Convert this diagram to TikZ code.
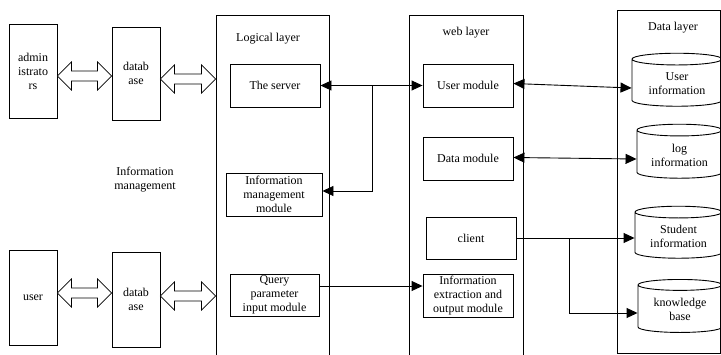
\documentclass[tikz,border=0pt]{standalone}
\usepackage{fontspec}
\setmainfont{Liberation Serif}
\usetikzlibrary{arrows.meta,calc,shapes.geometric}
\tikzset{
  box/.style={draw, line width=0.9pt, align=center, inner sep=1pt},
  layer/.style={draw, line width=0.9pt},
  title/.style={inner sep=0pt},
  store/.style={draw, line width=0.9pt, cylinder, shape border rotate=90, aspect=0.2, align=center, inner sep=1pt},
  link/.style={line width=0.9pt, -{Triangle[length=11pt,width=10pt]}},
  twolink/.style={line width=0.9pt, {Triangle[length=11pt,width=10pt]}-{Triangle[length=11pt,width=10pt]}},
  hollow/.style={draw, line width=0.7pt, fill=white}
}
% hollow double arrow between two nodes at height #3
\newcommand{\hollowarrow}[3]{%
  \path (#1.east |- 0,#3) coordinate (hA) (#2.west |- 0,#3) coordinate (hB);
  \draw[hollow] (hA) -- ++(14,-14) -- ++(0,9) -- ($(hB)+(-14,-5)$) -- ++(0,-9)
    -- (hB) -- ++(-14,14) -- ++(0,-9) -- ($(hA)+(14,5)$) -- ++(0,9) -- cycle;}

\begin{document}
\begin{tikzpicture}[x=1pt, y=-1pt, font=\fontsize{12}{14}\selectfont]
    \useasboundingbox (0,0) rectangle (721,354);
    \clip (0,0) rectangle (721,354);
    % layers
    \node[layer, minimum width=113pt, minimum height=355pt] (logic) at (272.5,192.5) {};
    \node[layer, minimum width=114pt, minimum height=355pt] (web) at (466,192.5) {};
    \node[layer, minimum width=103pt, minimum height=343pt] (data) at (668.5,181.5) {};
    \node[title] (logictitle) at (268,39) {Logical layer};
    \node[title] (webtitle) at (466,33) {web layer};
    \node[title] (datatitle) at (673,28) {Data layer};
    % left side
    \node[box, minimum width=48pt, minimum height=94pt] (adm) at (33,71) {admin\\istrato\\rs};
    \node[box, minimum width=48pt, minimum height=93pt] (dbtop) at (136,73.5) {datab\\ase};
    \node[box, minimum width=48pt, minimum height=95pt] (usr) at (33,297.5) {user};
    \node[box, minimum width=48pt, minimum height=95pt] (dbbot) at (136,299.5) {datab\\ase};
    \node[align=center, inner sep=0pt] (infomgmt) at (145,180) {Information\\management};
    % logical layer
    \node[box, minimum width=90pt, minimum height=43pt] (server) at (275,85.5) {The server};
    \node[box, minimum width=96pt, minimum height=43pt] (imm) at (274,194.5) {Information\\management\\module};
    \node[box, minimum width=89pt, minimum height=42pt] (query) at (274.5,295) {Query\\parameter\\input module};
    % web layer
    \node[box, minimum width=90pt, minimum height=43pt] (usermod) at (468,85.5) {User module};
    \node[box, minimum width=90pt, minimum height=43pt] (datamod) at (468,158.5) {Data module};
    \node[box, minimum width=90pt, minimum height=42pt] (client) at (471,238) {client};
    \node[box, minimum width=90pt, minimum height=43pt] (extract) at (468,295.5) {Information\\extraction and\\output module};
    % data layer
    \node[store, minimum width=90pt, minimum height=53pt] (userinfo) at (677,83.5) {User\\information};
    \node[store, minimum width=85pt, minimum height=54pt] (loginfo) at (679.5,155) {log\\information};
    \node[store, minimum width=87pt, minimum height=52pt] (studinfo) at (678.5,236) {Student\\information};
    \node[store, minimum width=84pt, minimum height=53pt] (know) at (680,309.5) {knowledge\\base};
    % hollow arrows
    \hollowarrow{adm}{dbtop}{76}
    \hollowarrow{dbtop}{logic}{79}
    \hollowarrow{usr}{dbbot}{293}
    \hollowarrow{dbbot}{logic}{296}
    % connectors
    \coordinate (sbranch) at (372,85.5);
    \coordinate (cbranch) at (569,239);
    \draw[twolink] (server.east) -- (usermod.west);
    \draw[link] (sbranch) |- ([yshift=3.5pt]imm.east);
    \draw[link] ([yshift=9pt]query.east) -- ([yshift=9pt]query.east -| extract.west);
    \draw[twolink] ([yshift=2pt]usermod.east) -- ([yshift=-4.5pt]userinfo.west);
    \draw[twolink] ([yshift=1pt]datamod.east) -- ([yshift=-4pt]loginfo.west);
    \draw[link] (client.east) -- (client.east -| studinfo.west);
    \draw[link] (cbranch) |- ([yshift=-3.5pt]know.west);
\end{tikzpicture}
\end{document}
